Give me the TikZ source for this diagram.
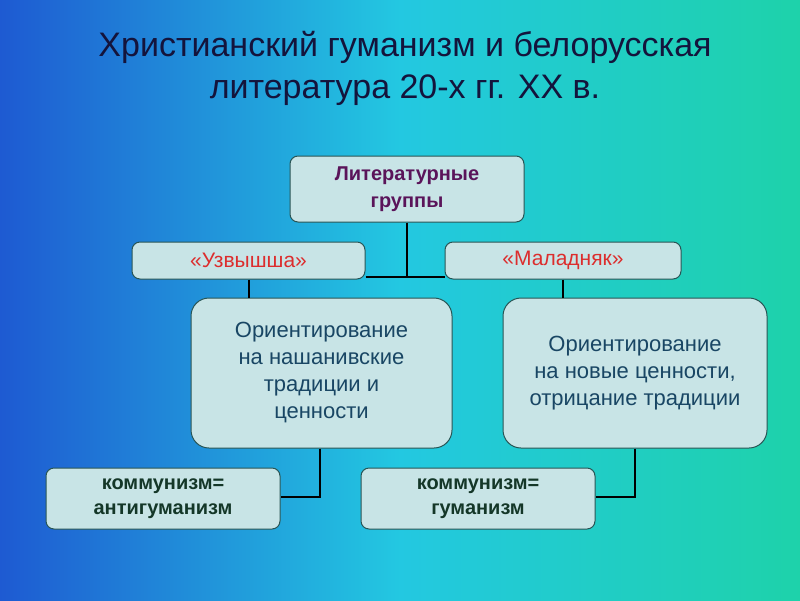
\documentclass[tikz,border=0pt]{standalone}
\usepackage{fontspec}
\setmainfont{Liberation Sans}
\definecolor{bgA}{RGB}{30,90,210}
\definecolor{bgB}{RGB}{35,200,225}
\definecolor{bgC}{RGB}{30,210,170}
\definecolor{boxfill}{RGB}{200,228,230}
\definecolor{boxline}{RGB}{40,85,85}
\definecolor{purp}{RGB}{90,20,90}
\definecolor{redt}{RGB}{220,45,45}
\definecolor{bluet}{RGB}{25,70,100}
\definecolor{greent}{RGB}{20,55,40}
\tikzset{
  bx/.style={draw=boxline, line width=1pt, fill=boxfill, rounded corners=8pt, align=center, inner sep=0pt, font=\fontsize{21}{26}\selectfont},
  bigbx/.style={bx, rounded corners=18pt, font=\fontsize{22}{27}\selectfont},
  conn/.style={draw=black, line width=2pt}
}
\begin{document}
\begin{tikzpicture}[x=1pt,y=-1pt]
\useasboundingbox (0,0) rectangle (800,600);
\fill[bgB] (0,0) rectangle (800,600);
\shade[shading angle=60, left color=bgA, right color=bgB] (0,0) rectangle (400,600);
\shade[shading angle=60, left color=bgB, right color=bgC] (400,0) rectangle (800,600);
\node[font=\fontsize{34}{42}\selectfont, align=center, text={rgb,255:red,20;green,20;blue,60}] (title) at (405,68) {Христианский гуманизм и белорусская\\литература 20-х гг. XX в.};
\coordinate (j1) at (407,277);
\node[bx, minimum width=234pt, minimum height=66pt, text=purp, font=\bfseries\fontsize{20}{27}\selectfont] (top) at (407,189) {Литературные\\группы};
\node[bx, minimum width=233pt, minimum height=37pt, text=redt] (uz) at (248.5,260.5) {«Узвышша»};
\node[bx, minimum width=236pt, minimum height=37pt, text=redt] (ma) at (563,260.5) {«Маладняк»};
\node[bigbx, minimum width=261pt, minimum height=150pt, text=bluet] (lb) at (321.5,373) {Ориентирование\\на нашанивские\\традиции и\\ценности};
\node[bigbx, minimum width=264pt, minimum height=150pt, text=bluet] (rb) at (635,373) {Ориентирование\\на новые ценности,\\отрицание традиции};
\node[bx, minimum width=234pt, minimum height=61pt, text=greent, font=\bfseries\fontsize{20}{25}\selectfont] (lb2) at (163,498.5) {коммунизм=\\антигуманизм};
\node[bx, minimum width=234pt, minimum height=61pt, text=greent, font=\bfseries\fontsize{20}{25}\selectfont] (rb2) at (478,498.5) {коммунизм=\\гуманизм};
\coordinate (lc) at (320,497);
\coordinate (rc) at (635,497);
\draw[conn] (top.south) -- (j1);
\draw[conn] (uz.east |- j1) -- (ma.west |- j1);
\draw[conn] (uz.south) -- (uz.south |- lb.north);
\draw[conn] (ma.south) -- (ma.south |- rb.north);
\draw[conn] (lb.south -| lc) -- (lc) -- (lb2.east |- lc);
\draw[conn] (rb.south -| rc) -- (rc) -- (rb2.east |- rc);
\end{tikzpicture}
\end{document}
